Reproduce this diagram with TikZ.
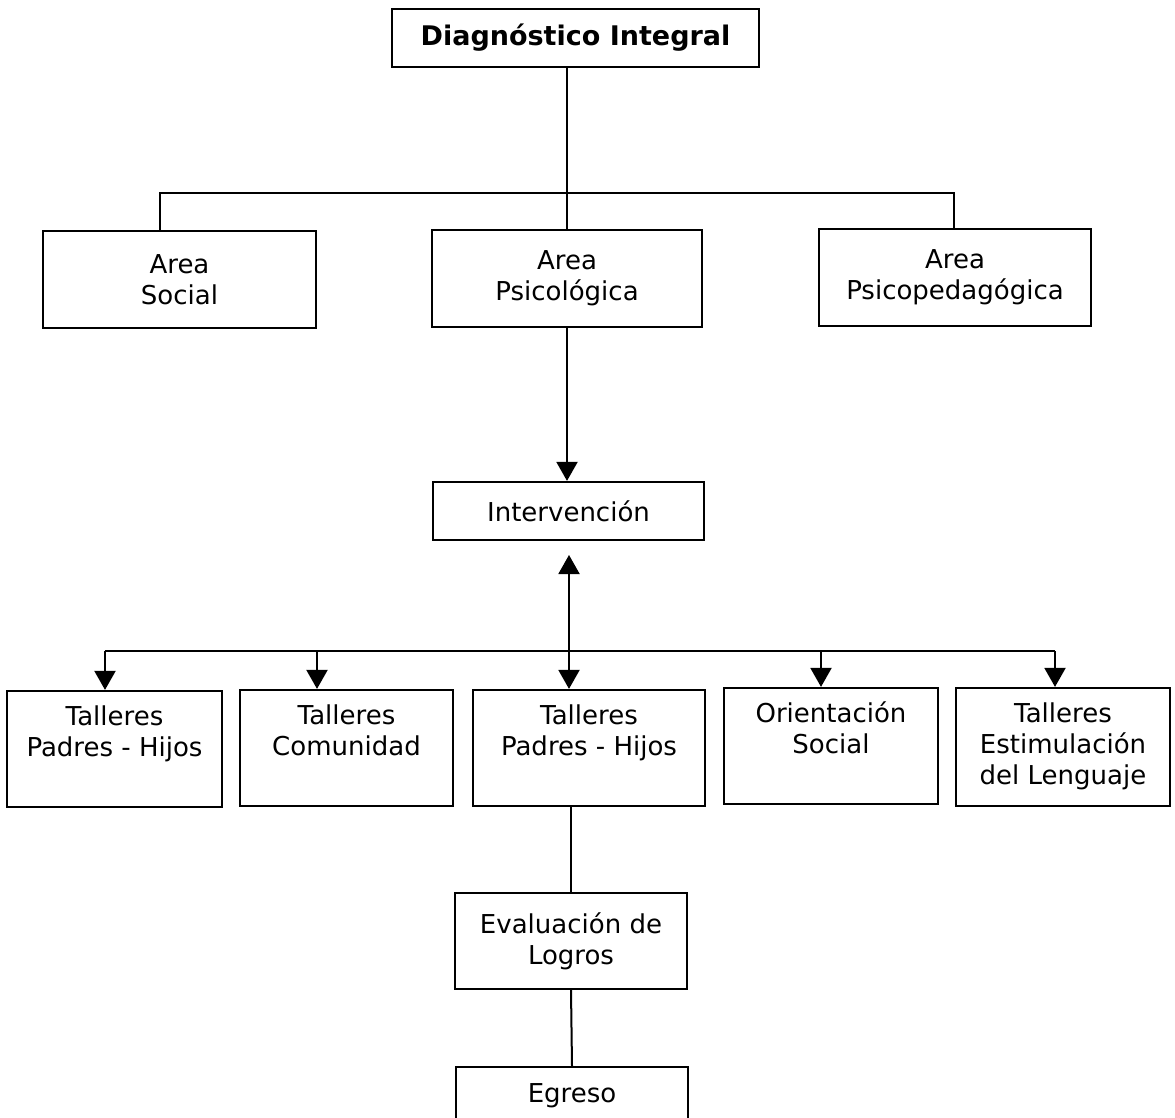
\documentclass[tikz,border=0pt]{standalone}
\usepackage{fontspec}
\setmainfont{DejaVu Sans}
\usetikzlibrary{positioning,arrows.meta}
\tikzset{
  caja/.style={draw, line width=2.2pt, inner sep=0pt, align=center, font=\fontsize{26}{31}\selectfont},
  texto/.style={inner sep=0pt, align=center, font=\fontsize{26}{31}\selectfont},
  linea/.style={line width=2pt},
  flecha/.style={line width=2pt, -{Triangle[length=19pt,width=21pt]}},
  doble/.style={line width=2pt, {Triangle[length=19pt,width=21pt]}-{Triangle[length=19pt,width=21pt]}}
}
\begin{document}
\begin{tikzpicture}[x=1pt,y=-1pt]
\useasboundingbox (0,0) rectangle (1175,1118);
\clip (0,0) rectangle (1175,1118);

% diagnostico y areas
\node[caja, minimum width=367pt, minimum height=58pt, font=\fontsize{27}{31}\selectfont\bfseries] (diag) at (575.5,38) {Diagnóstico Integral};
\node[caja, minimum width=273pt, minimum height=97pt] (social) at (179.5,279.5) {Area\\Social};
\node[caja, minimum width=270pt, minimum height=97pt] (psic) at (567,278.5) {Area\\Psicológica};
\node[caja, minimum width=272pt, minimum height=97pt] (ped) at (955,277.5) {Area\\Psicopedagógica};

\coordinate (al) at (160,193);
\coordinate (ar) at (954,193);
\draw[linea] (diag.south -| psic.north) -- (psic.north);
\draw[linea] (social.north -| al) -- (al) -- (ar) -- (ped.north -| ar);

% intervencion
\node[caja, minimum width=271pt, minimum height=58pt] (inter) at (568.5,511) {Intervención};
\draw[flecha] (psic.south) -- (psic.south |- inter.north);

% talleres (texto arriba)
\node[caja, minimum width=215pt, minimum height=116pt] (tph1) at (114.5,749) {};
\node[caja, minimum width=213pt, minimum height=116pt] (tcom) at (346.5,748) {};
\node[caja, minimum width=232pt, minimum height=116pt] (tph2) at (589,748) {};
\node[caja, minimum width=214pt, minimum height=116pt] (ori) at (831,746) {};
\node[caja, minimum width=214pt, minimum height=118pt] (tel) at (1063,747) {};
\node[texto, below=16pt of tph1.north] (tph1t) {Talleres\\Padres - Hijos};
\node[texto, below=16pt of tcom.north] (tcomt) {Talleres\\Comunidad};
\node[texto, below=16pt of tph2.north] (tph2t) {Talleres\\Padres - Hijos};
\node[texto, below=15pt of ori.north] (orit) {Orientación\\Social};
\node[texto, below=16pt of tel.north] (telt) {Talleres\\Estimulación\\del Lenguaje};

\coordinate (intb) at (569,555);
\coordinate (bl) at (105,651);
\coordinate (br) at (1055,651);
\draw[doble] (intb) -- (intb |- tph2.north);
\draw[linea] (bl) -- (br);
\foreach \nombre/\xx in {tph1/105,tcom/317,ori/821,tel/1055}
  \draw[flecha] (\xx,651) -- (\xx,651 |- \nombre.north);

% evaluacion y egreso
\node[caja, minimum width=232pt, minimum height=96pt] (eval) at (571,941) {Evaluación de\\Logros};
\node[caja, minimum width=232pt, minimum height=58pt] (egr) at (572,1096) {Egreso};
\draw[linea] (tph2.south -| eval.north) -- (eval.north);
\draw[linea] (eval.south) -- (egr.north);
\end{tikzpicture}
\end{document}
